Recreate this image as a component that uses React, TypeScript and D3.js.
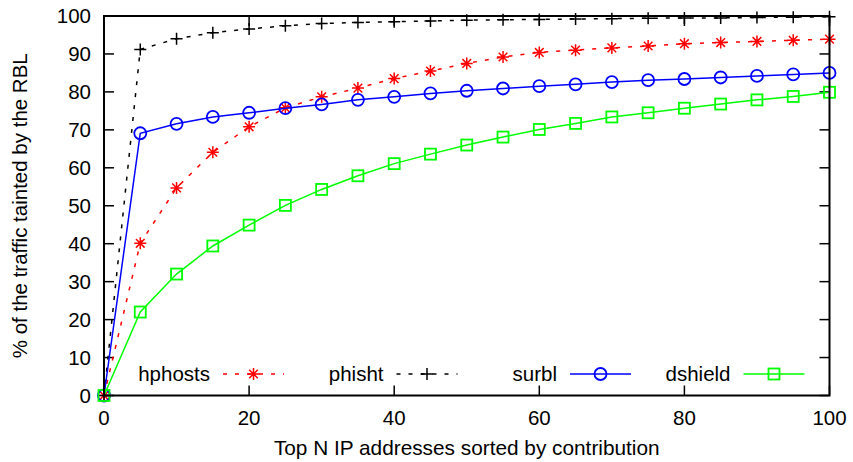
import React from "react";
import * as d3 from "d3";

const xValues = [0, 5, 10, 15, 20, 25, 30, 35, 40, 45, 50, 55, 60, 65, 70, 75, 80, 85, 90, 95, 100];
const hphosts = [0, 40.1, 54.7, 64.1, 70.8, 75.8, 78.7, 81.0, 83.5, 85.5, 87.5, 89.2, 90.4, 91.0, 91.6, 92.1, 92.7, 93.0, 93.3, 93.6, 93.9];
const phisht = [0, 91.2, 94.0, 95.6, 96.6, 97.4, 98.0, 98.3, 98.5, 98.7, 98.9, 99.0, 99.1, 99.2, 99.3, 99.4, 99.5, 99.5, 99.6, 99.7, 99.8];
const surbl = [0, 69.1, 71.6, 73.4, 74.5, 75.7, 76.7, 77.9, 78.7, 79.6, 80.3, 80.9, 81.5, 82.0, 82.6, 83.1, 83.4, 83.8, 84.2, 84.6, 85.0];
const dshield = [0, 22.0, 32.0, 39.4, 44.9, 50.1, 54.3, 57.9, 61.1, 63.6, 66.0, 68.1, 70.1, 71.7, 73.4, 74.5, 75.7, 76.8, 77.9, 78.8, 79.9];

const xTicks = [0, 20, 40, 60, 80, 100];
const yTicks = [0, 10, 20, 30, 40, 50, 60, 70, 80, 90, 100];
const seriesNames = ["hphosts", "phisht", "surbl", "dshield"];

const W = 853, H = 462;
const L = 104, R = 829.5, T = 16, B = 395.5;
const FONT = "'Liberation Sans', Arial, Helvetica, sans-serif";
const FS = 20.5;

type Marker = "asterisk" | "plus" | "circle" | "square";

function MarkerShape({ type, x, y, color }: { type: Marker; x: number; y: number; color: string }) {
  const s = 6;
  if (type === "circle") return <circle cx={x} cy={y} r={6} fill="none" stroke={color} strokeWidth={1.8} />;
  if (type === "square") return <rect x={x - 5.5} y={y - 5.5} width={11} height={11} fill="none" stroke={color} strokeWidth={1.8} />;
  if (type === "plus")
    return (
      <path d={`M${x - s},${y}H${x + s}M${x},${y - s}V${y + s}`} stroke={color} strokeWidth={1.5} fill="none" />
    );
  const d = s * 0.72;
  return (
    <path
      d={`M${x - s},${y}H${x + s}M${x},${y - s}V${y + s}M${x - d},${y - d}L${x + d},${y + d}M${x - d},${y + d}L${x + d},${y - d}`}
      stroke={color}
      strokeWidth={1.5}
      fill="none"
    />
  );
}

export default function App() {
  const x = d3.scaleLinear().domain([0, 100]).range([L, R]);
  const y = d3.scaleLinear().domain([0, 100]).range([B, T]);
  const line = d3
    .line<number>()
    .x((_, i) => x(xValues[i]))
    .y((v) => y(v));

  const series = [
    { name: seriesNames[0], data: hphosts, color: "#ff0000", dash: "4,8", marker: "asterisk" as Marker },
    { name: seriesNames[1], data: phisht, color: "#000000", dash: "4,8", marker: "plus" as Marker },
    { name: seriesNames[2], data: surbl, color: "#0000ff", dash: undefined, marker: "circle" as Marker },
    { name: seriesNames[3], data: dshield, color: "#00ff00", dash: undefined, marker: "square" as Marker },
  ];

  const tickLen = 10;

  return (
    <svg width={W} height={H} style={{ position: "absolute", left: 0, top: 0, background: "#fff" }} fontFamily={FONT}>
      <rect x={0} y={0} width={W} height={H} fill="#fff" />
      {/* ticks */}
      {yTicks.map((t) => (
        <g key={"y" + t}>
          <line x1={L} x2={L + tickLen} y1={y(t)} y2={y(t)} stroke="#000" strokeWidth={1.5} />
          <line x1={R} x2={R - tickLen} y1={y(t)} y2={y(t)} stroke="#000" strokeWidth={1.5} />
          <text x={91} y={y(t)} dy="0.35em" textAnchor="end" fontSize={FS} fill="#000">
            {t}
          </text>
        </g>
      ))}
      {xTicks.map((t) => (
        <g key={"x" + t}>
          <line x1={x(t)} x2={x(t)} y1={B} y2={B - tickLen} stroke="#000" strokeWidth={1.5} />
          <line x1={x(t)} x2={x(t)} y1={T} y2={T + tickLen} stroke="#000" strokeWidth={1.5} />
          <text x={x(t)} y={425} textAnchor="middle" fontSize={FS} fill="#000">
            {t}
          </text>
        </g>
      ))}
      {/* series */}
      {series.map((s) => (
        <g key={s.name}>
          <path d={line(s.data) || ""} fill="none" stroke={s.color} strokeWidth={1.5} strokeDasharray={s.dash} />
          {s.data.map((v, i) => (
            <MarkerShape key={i} type={s.marker} x={x(xValues[i])} y={y(v)} color={s.color} />
          ))}
        </g>
      ))}
      {/* legend */}
      {series.map((s, i) => {
        const textEnd = 210 + i * 173.5;
        const lx1 = textEnd + 13;
        const lx2 = textEnd + 74;
        const ly = 374;
        return (
          <g key={"leg" + s.name}>
            <text x={textEnd} y={380.5} textAnchor="end" fontSize={FS} fill="#000">
              {s.name}
            </text>
            <line x1={lx1} x2={lx2} y1={ly} y2={ly} stroke={s.color} strokeWidth={1.5} strokeDasharray={s.dash} />
            <MarkerShape type={s.marker} x={(lx1 + lx2) / 2} y={ly} color={s.color} />
          </g>
        );
      })}
      {/* frame */}
      <rect x={L} y={T} width={R - L} height={B - T} fill="none" stroke="#000" strokeWidth={2} />
      {/* axis titles */}
      <text x={(L + R) / 2} y={455} textAnchor="middle" fontSize={20.8} fill="#000">
        Top N IP addresses sorted by contribution
      </text>
      <text
        transform={`translate(26.5,${(T + B) / 2}) rotate(-90)`}
        textAnchor="middle"
        fontSize={FS}
        fill="#000"
      >
        % of the traffic tainted by the RBL
      </text>
    </svg>
  );
}
